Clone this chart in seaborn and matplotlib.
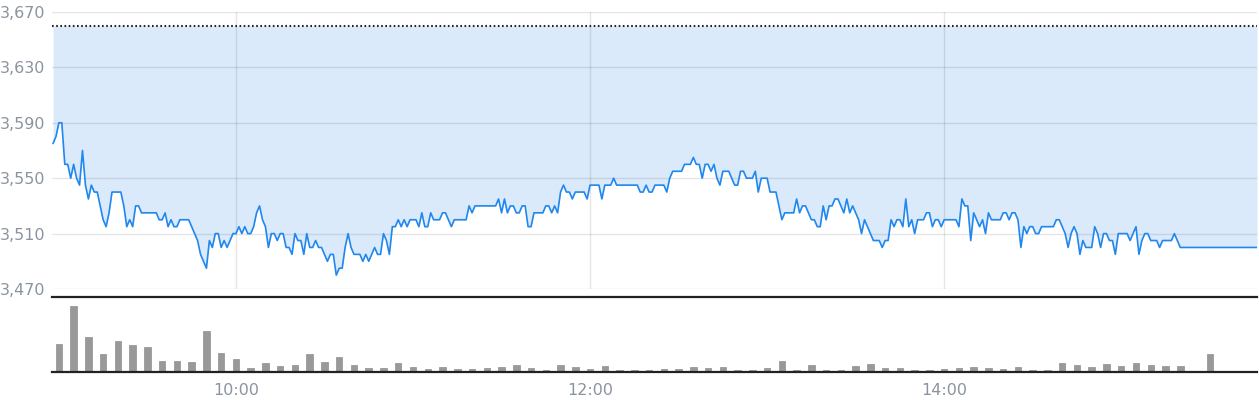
import pandas as pd
import matplotlib
matplotlib.use("Agg")
import matplotlib.pyplot as plt
import matplotlib.dates as mdates
import seaborn as sns

# --- data --------------------------------------------------------------
day = "2024-01-02"
prev_close = 3660          # dotted reference line
first_tick = "08:58"       # 1-minute prices from here
prices = [
    3575, 3580, 3590, 3590, 3560, 3560, 3550, 3560, 3550, 3545,
    3570, 3545, 3535, 3545, 3540, 3540, 3530, 3520, 3515, 3525,
    3540, 3540, 3540, 3540, 3530, 3515, 3520, 3515, 3530, 3530,
    3525, 3525, 3525, 3525, 3525, 3525, 3520, 3520, 3525, 3515,
    3520, 3515, 3515, 3520, 3520, 3520, 3520, 3515, 3510, 3505,
    3495, 3490, 3485, 3505, 3500, 3510, 3510, 3500, 3505, 3500,
    3505, 3510, 3510, 3515, 3510, 3515, 3510, 3510, 3515, 3525,
    3530, 3520, 3515, 3500, 3510, 3510, 3505, 3510, 3510, 3500,
    3500, 3495, 3510, 3505, 3505, 3495, 3510, 3500, 3500, 3505,
    3500, 3500, 3495, 3490, 3495, 3495, 3480, 3485, 3485, 3500,
    3510, 3500, 3495, 3495, 3495, 3490, 3495, 3490, 3495, 3500,
    3495, 3495, 3510, 3505, 3495, 3515, 3515, 3520, 3515, 3520,
    3515, 3520, 3520, 3520, 3515, 3525, 3515, 3515, 3525, 3520,
    3520, 3520, 3525, 3525, 3520, 3515, 3520, 3520, 3520, 3520,
    3520, 3530, 3525, 3530, 3530, 3530, 3530, 3530, 3530, 3530,
    3530, 3535, 3525, 3535, 3525, 3530, 3530, 3525, 3525,
    3530, 3530, 3515, 3515, 3525, 3525, 3525, 3525, 3530, 3530,
    3525, 3530, 3525, 3540, 3545, 3540, 3540, 3535, 3540, 3540,
    3540, 3540, 3535, 3545, 3545, 3545, 3545, 3535, 3545, 3545,
    3545, 3550, 3545, 3545, 3545, 3545, 3545, 3545, 3545, 3545,
    3540, 3540, 3545, 3540, 3540, 3545, 3545, 3545, 3545, 3540,
    3550, 3555, 3555, 3555, 3555, 3560, 3560, 3560, 3565, 3560,
    3560, 3550, 3560, 3560, 3555, 3560, 3550, 3545, 3555, 3555,
    3555, 3550, 3545, 3545, 3555, 3555, 3550, 3550, 3550, 3555,
    3540, 3550, 3550, 3550, 3540, 3540, 3540, 3530, 3520, 3525,
    3525, 3525, 3525, 3535, 3525, 3530, 3530, 3525, 3520, 3520, 3515,
    3515, 3530, 3520, 3530, 3530, 3535, 3535, 3530, 3525, 3535,
    3525, 3530, 3525, 3520, 3510, 3520, 3515, 3510, 3505, 3505,
    3505, 3500, 3505, 3505, 3520, 3515, 3520, 3520, 3515, 3535,
    3515, 3520, 3510, 3520, 3520, 3520, 3525, 3525, 3515, 3520,
    3520, 3515, 3520, 3520, 3520, 3520, 3520, 3515, 3535, 3530,
    3530, 3505, 3525, 3520, 3515, 3520, 3510, 3525, 3520, 3520,
    3520, 3520, 3525, 3525, 3520, 3525, 3525, 3520, 3500, 3515,
    3510, 3515, 3515, 3510, 3510, 3515, 3515, 3515, 3515, 3515,
    3520, 3520, 3515, 3510, 3500, 3510, 3515, 3510, 3495, 3505,
    3500, 3500, 3500, 3515, 3510, 3500, 3510, 3510, 3505, 3505,
    3495, 3510, 3510, 3510, 3510, 3505, 3510, 3515, 3495, 3505,
    3510, 3510, 3505, 3505, 3505, 3500, 3505, 3505, 3505, 3505,
    3510, 3505, 3500,
]
close_time = "15:30"
close_price = 3500

vol_start = "09:00"        # 5-minute volume bars
volumes = [
    81, 195, 102, 51, 90, 78, 72, 30, 30, 27, 120, 54, 36, 9, 24, 15, 18, 51, 27, 42, 18, 9, 9, 24, 12,
    6, 12, 6, 6, 9, 12, 18, 9, 3, 18, 12, 6, 15, 3, 3, 3, 6, 6, 12, 9, 12, 3, 3, 9, 30, 3, 18, 3, 2,
    15, 21, 9, 9, 3, 3, 6, 9, 12, 9, 6, 12, 3, 3, 24, 18, 12, 21, 15, 24, 18, 15, 15, 0, 51,
]

y_ticks = [3470, 3510, 3550, 3590, 3630, 3670]
x_ticks = ["10:00", "12:00", "14:00"]
view_start, view_end = "08:57:40", "15:46"

# --- colours ------------------------------------------------------------
line_col = "#1f87ee"
fill_col = "#dbeafb"
label_col = "#8a949f"
bar_col = "#999999"

sns.set_style("white")
plt.rcParams["font.family"] = ["DejaVu Sans"]

def ts(hhmm):
    return pd.Timestamp(f"{day} {hhmm}")

t_price = pd.date_range(ts(first_tick), periods=len(prices), freq="min")
df = pd.DataFrame({"time": t_price, "price": prices})
# closing auction point, then hold last price to the edge of the view
tail = pd.DataFrame({"time": [ts(close_time), ts(view_end)],
                     "price": [close_price, close_price]})
df = pd.concat([df, tail], ignore_index=True)
df["x"] = mdates.date2num(df["time"])

t_vol = pd.date_range(ts(vol_start), periods=len(volumes), freq="5min")
vol = pd.DataFrame({"x": mdates.date2num(t_vol), "volume": volumes})
vol = vol[vol["volume"] > 0]

fig = plt.figure(figsize=(12.59, 4.0), dpi=100)
ax = fig.add_axes([0.0413, 0.2775, 0.9571, 0.6925])
axv = fig.add_axes([0.0413, 0.0700, 0.9571, 0.1875], sharex=ax)

# price panel
ax.fill_between(df["x"], df["price"], prev_close, color=fill_col, lw=0, zorder=1)
sns.lineplot(data=df, x="x", y="price", ax=ax, color=line_col, lw=1.2, zorder=4)
ax.axhline(prev_close, color="#222222", lw=1.5, ls=(0, (0.8, 1.2)), zorder=5)

ax.set_ylim(y_ticks[0], y_ticks[-1])
ax.set_yticks(y_ticks)
ax.set_yticklabels([f"{v:,}" for v in y_ticks])
ax.grid(True, color="black", alpha=0.1, lw=1, zorder=3)
ax.set_axisbelow(False)
for s in ax.spines.values():
    s.set_visible(False)
ax.tick_params(axis="y", length=0, pad=5, labelsize=11.5, labelcolor=label_col)
ax.tick_params(axis="x", length=0, labelbottom=False)
ax.set_xlabel("")
ax.set_ylabel("")

# volume panel (baseline sits just above the bottom rule)
axv.bar(vol["x"], vol["volume"], width=2.2 / 1440, color=bar_col,
        edgecolor=bar_col, linewidth=0.6, zorder=2)
axv.set_ylim(-3.5, 222)
axv.set_yticks([])
for name, s in axv.spines.items():
    if name in ("top", "bottom"):
        s.set_color("#222222")
        s.set_linewidth(1.6)
        s.set_zorder(3)
    else:
        s.set_visible(False)

axv.set_xlim(mdates.date2num(ts(view_start)), mdates.date2num(ts(view_end)))
axv.set_xticks(mdates.date2num([ts(t) for t in x_ticks]))
axv.xaxis.set_major_formatter(mdates.DateFormatter("%H:%M"))
axv.tick_params(axis="x", length=5, width=2, color="#222222", pad=3,
                labelsize=11.5, labelcolor=label_col)

fig.savefig("out.png", dpi=100)
